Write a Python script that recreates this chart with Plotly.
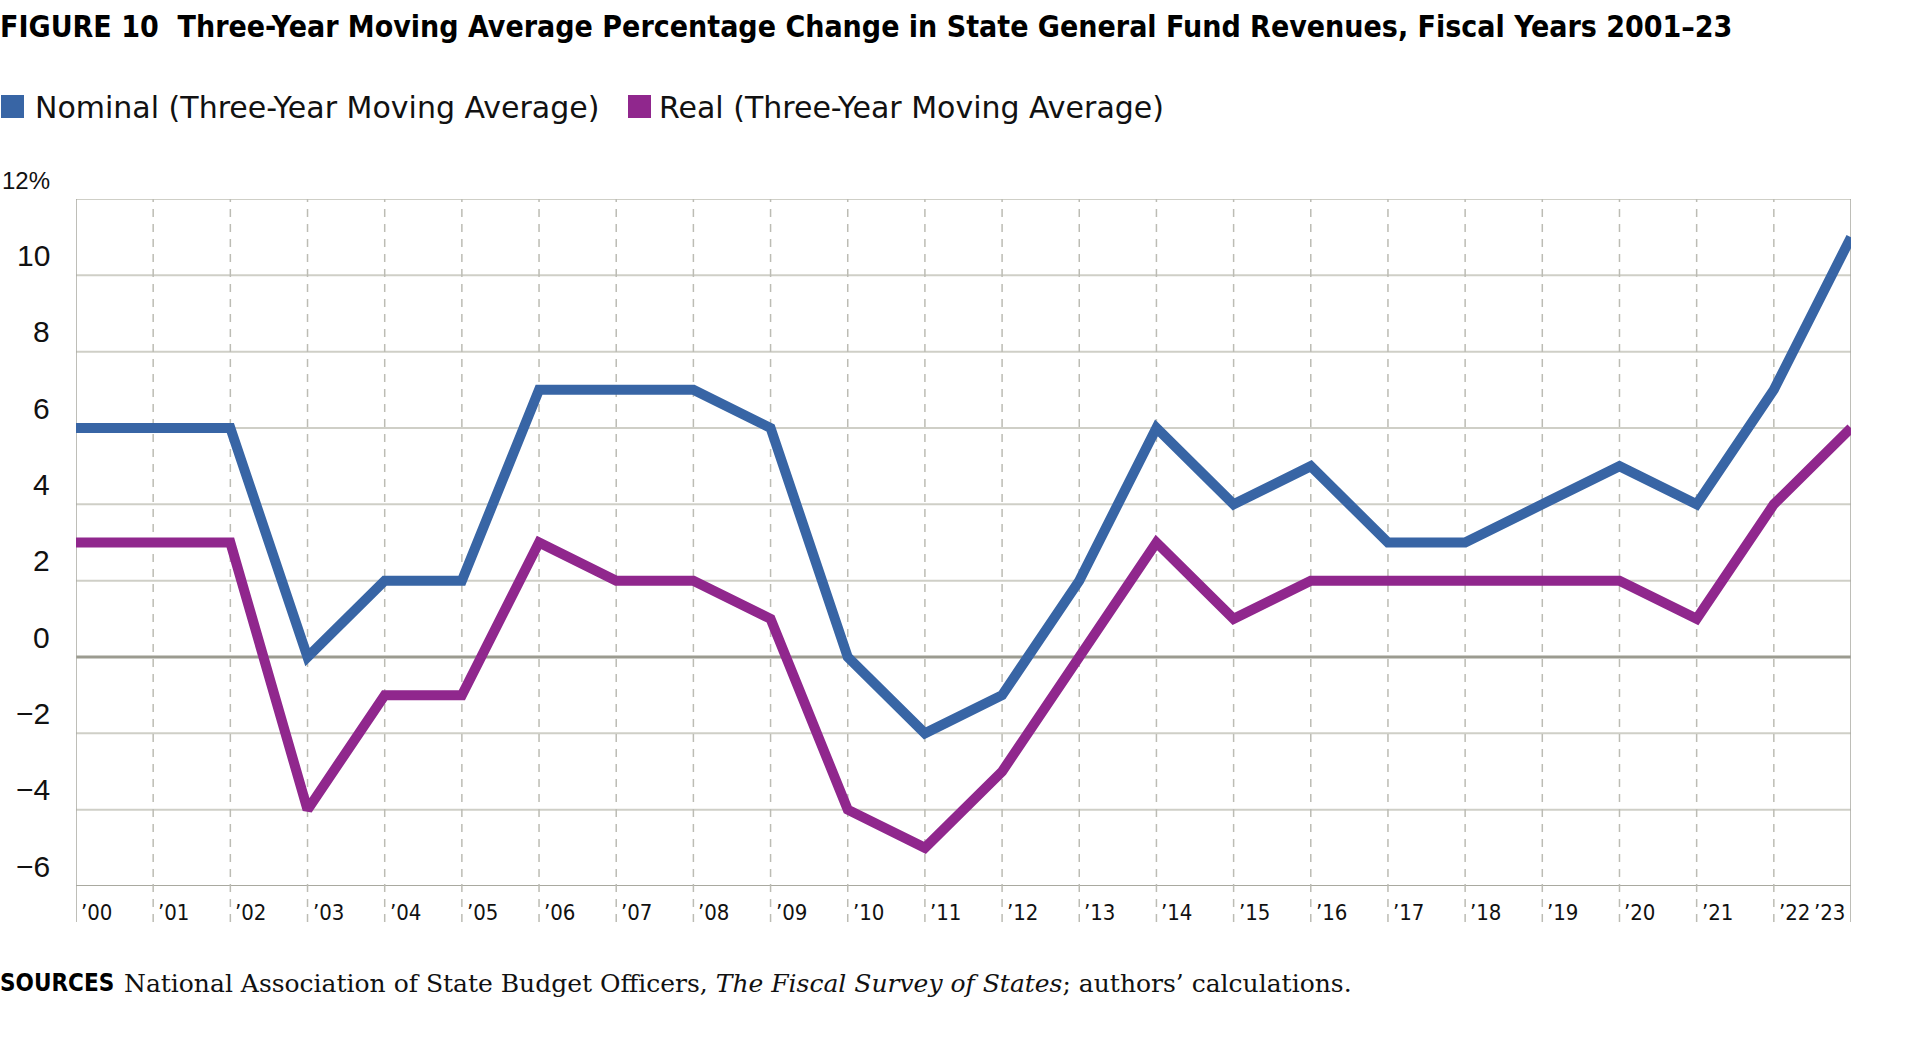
import plotly.graph_objects as go

years = list(range(2000, 2024))
tick_labels = ["’00", "’01", "’02", "’03", "’04", "’05", "’06", "’07", "’08", "’09", "’10", "’11",
               "’12", "’13", "’14", "’15", "’16", "’17", "’18", "’19", "’20", "’21", "’22", "’23"]
nominal = [6, 6, 6, 0, 2, 2, 7, 7, 7, 6, 0, -2, -1, 2, 6, 4, 5, 3, 3, 4, 5, 4, 7, 11]
real = [3, 3, 3, -4, -1, -1, 3, 2, 2, 1, -4, -5, -3, 0, 3, 1, 2, 2, 2, 2, 2, 1, 4, 6]
y_ticks = [12, 10, 8, 6, 4, 2, 0, -2, -4, -6]
y_tick_labels = ["12%", "10", "8", "6", "4", "2", "0", "−2", "−4", "−6"]

title = "FIGURE 10\u00a0\u00a0Three-Year Moving Average Percentage Change in State General Fund Revenues, Fiscal Years 2001–23"
legend_names = ["Nominal (Three-Year Moving Average)", "Real (Three-Year Moving Average)"]
sources_text = "National Association of State Budget Officers, <i>The Fiscal Survey of States</i>; authors’ calculations."

BLUE = "#3865A5"
PURPLE = "#90278D"
COND = "DejaVu Sans Condensed, DejaVu Sans, sans-serif"

W, H = 1911, 1045
L, R, T, B = 76, 1851, 199, 886
PW, PH = R - L, B - T


def px(xp):
    return (xp - L) / PW


def py(yp):
    return (B - yp) / PH


fig = go.Figure()
fig.add_trace(go.Scatter(x=years, y=nominal, mode="lines", name=legend_names[0],
                         line=dict(color=BLUE, width=10), showlegend=False))
fig.add_trace(go.Scatter(x=years, y=real, mode="lines", name=legend_names[1],
                         line=dict(color=PURPLE, width=10), showlegend=False))

shapes = []
for v in y_ticks:
    if v == 0:
        col, w = "#9b9b90", 3
    elif v == -6:
        col, w = "#a9a9a0", 2
    else:
        col, w = "#cfcfc7", 2
    shapes.append(dict(type="line", xref="paper", yref="y", x0=0, x1=1, y0=v, y1=v,
                       line=dict(color=col, width=w), layer="below"))
for i, yr in enumerate(years):
    if i == 0 or i == len(years) - 1:
        shapes.append(dict(type="line", xref="x", yref="paper", x0=yr, x1=yr, y0=py(922), y1=1,
                           line=dict(color="#a9a9a0", width=1.5), layer="below"))
    else:
        shapes.append(dict(type="line", xref="x", yref="paper", x0=yr, x1=yr, y0=py(922), y1=1,
                           line=dict(color="#bcbcb4", width=1.5, dash="8px,7px"), layer="below"))

annotations = []
for i, (yr, lab) in enumerate(zip(years, tick_labels)):
    last = i == len(years) - 1
    annotations.append(dict(x=yr, y=py(912), xref="x", yref="paper", text=lab, showarrow=False,
                            xanchor="right" if last else "left", yanchor="middle",
                            xshift=-5 if last else 4, borderpad=0,
                            font=dict(family=COND, size=22, color="#111")))
for v, lab in zip(y_ticks, y_tick_labels):
    annotations.append(dict(x=px(51), y=v, xref="paper", yref="y", text=lab, showarrow=False,
                            xanchor="right", yanchor="middle", yshift=20 if v != 12 else 19,
                            borderpad=0,
                            font=dict(family="Liberation Sans, Arial, sans-serif",
                                      size=30 if v != 12 else 24, color="#111")))
annotations.append(dict(x=px(-2), y=py(27), xref="paper", yref="paper", text="<b>" + title + "</b>",
                        showarrow=False, xanchor="left", yanchor="middle",
                        font=dict(family=COND, size=30, color="#000")))
leg_sq = [(1, BLUE), (628, PURPLE)]
leg_txt_x = [33, 657]
for (sx, col), tx, name in zip(leg_sq, leg_txt_x, legend_names):
    shapes.append(dict(type="rect", xref="paper", yref="paper", x0=px(sx), x1=px(sx + 23),
                       y0=py(118), y1=py(95), fillcolor=col, line=dict(width=0)))
    annotations.append(dict(x=px(tx), y=py(107), xref="paper", yref="paper", text=name,
                            showarrow=False, xanchor="left", yanchor="middle",
                            font=dict(family="DejaVu Sans, sans-serif", size=30, color="#111")))
annotations.append(dict(x=px(-2), y=py(983), xref="paper", yref="paper", text="<b>SOURCES</b>",
                        showarrow=False, xanchor="left", yanchor="middle",
                        font=dict(family=COND, size=24, color="#000")))
annotations.append(dict(x=px(122), y=py(983), xref="paper", yref="paper", text=sources_text,
                        showarrow=False, xanchor="left", yanchor="middle",
                        font=dict(family="DejaVu Serif, Liberation Serif, serif", size=25, color="#111")))

fig.update_layout(
    width=W, height=H, autosize=False,
    margin=dict(l=L, r=W - R, t=T, b=H - B, pad=0),
    paper_bgcolor="white", plot_bgcolor="white",
    xaxis=dict(range=[years[0], years[-1]], showgrid=False, zeroline=False, showticklabels=False,
               ticks="", showline=False, fixedrange=True),
    yaxis=dict(range=[-6, 12], showgrid=False, zeroline=False, showticklabels=False,
               ticks="", showline=False, fixedrange=True),
    shapes=shapes, annotations=annotations, showlegend=False,
)

fig.write_html("out.html", config={"displayModeBar": False},
               post_script="document.body.style.margin='0';document.body.style.overflow='hidden';")
